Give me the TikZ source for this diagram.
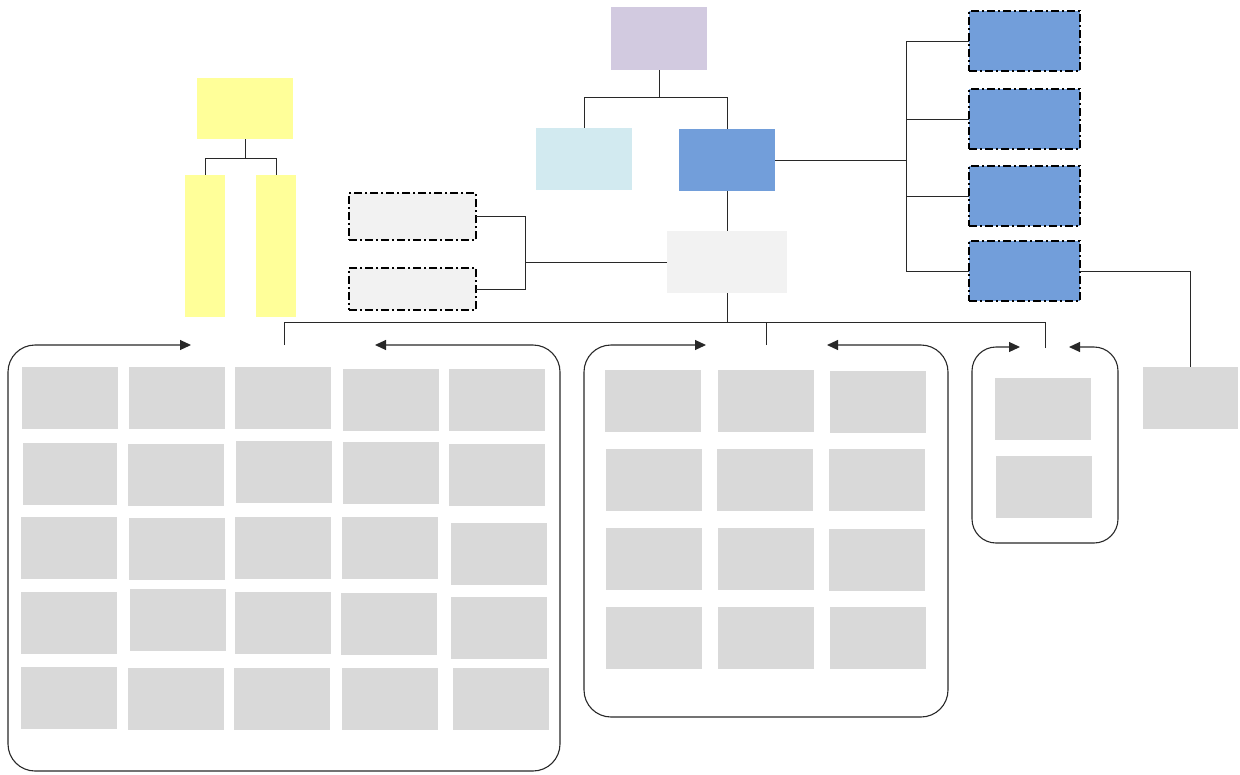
\documentclass[tikz,border=0pt]{standalone}
\usetikzlibrary{arrows.meta}
\definecolor{cpurple}{RGB}{210,202,224}
\definecolor{ccyan}{RGB}{210,234,240}
\definecolor{cblue}{RGB}{114,158,218}
\definecolor{cyellow}{RGB}{255,255,153}
\definecolor{clight}{RGB}{242,242,242}
\definecolor{ccell}{RGB}{217,217,217}
\definecolor{cline}{RGB}{40,40,40}
\begin{document}
\begin{tikzpicture}[x=1pt,y=-1pt,
  box/.style={inner sep=0pt,outer sep=0pt,draw=none},
  cell/.style={box,fill=ccell,minimum width=96pt,minimum height=62pt},
  dashdotbox/.style={box,draw=black,line width=1.3pt,dash pattern=on 8pt off 3pt on 2pt off 3pt},
  conn/.style={draw=cline,line width=1pt},
  region/.style={draw=cline,line width=1.1pt,rounded corners=27pt,{Triangle[length=11pt,width=10pt]}-{Triangle[length=11pt,width=10pt]}}
]
\useasboundingbox (0,0) rectangle (1240,774);
% top tree
\node[box,fill=cpurple,minimum width=96pt,minimum height=63pt] (top) at (659,38.5) {};
\node[box,fill=ccyan,minimum width=96pt,minimum height=62pt] (cy) at (584,159) {};
\node[box,fill=cblue,minimum width=96pt,minimum height=62pt] (bl) at (727,160) {};
\node[box,fill=clight,minimum width=120pt,minimum height=62pt] (lg) at (727,262) {};
\node[dashdotbox,fill=clight,minimum width=127pt,minimum height=47pt] (da) at (412.5,216.5) {};
\node[dashdotbox,fill=clight,minimum width=127pt,minimum height=42pt] (db) at (412.5,289) {};
% yellow
\node[box,fill=cyellow,minimum width=96pt,minimum height=61pt] (yt) at (245,108.5) {};
\node[box,fill=cyellow,minimum width=40pt,minimum height=142pt] (ya) at (205,246) {};
\node[box,fill=cyellow,minimum width=40pt,minimum height=142pt] (yb) at (276,246) {};
% blue dashed column
\node[dashdotbox,fill=cblue,minimum width=111pt,minimum height=60pt] (b1) at (1024.5,41) {};
\node[dashdotbox,fill=cblue,minimum width=111pt,minimum height=60pt] (b2) at (1024.5,119) {};
\node[dashdotbox,fill=cblue,minimum width=111pt,minimum height=60pt] (b3) at (1024.5,196) {};
\node[dashdotbox,fill=cblue,minimum width=111pt,minimum height=60pt] (b4) at (1024.5,271) {};
\node[cell,minimum width=95pt] (gx) at (1190.5,398) {};
% region 1 cells
\node[cell] (a11) at (70,398) {};
\node[cell] (a12) at (177,398) {};
\node[cell] (a13) at (283,398) {};
\node[cell] (a14) at (391,400) {};
\node[cell] (a15) at (497,400) {};
\node[cell,minimum width=94pt] (a21) at (70,474) {};
\node[cell] (a22) at (176,475) {};
\node[cell] (a23) at (284,472) {};
\node[cell] (a24) at (391,473) {};
\node[cell] (a25) at (497,475) {};
\node[cell] (a31) at (69,548) {};
\node[cell] (a32) at (177,549) {};
\node[cell] (a33) at (283,548) {};
\node[cell] (a34) at (390,548) {};
\node[cell] (a35) at (499,554) {};
\node[cell] (a41) at (69,623) {};
\node[cell] (a42) at (178,620) {};
\node[cell] (a43) at (283,623) {};
\node[cell] (a44) at (389,624) {};
\node[cell] (a45) at (499,628) {};
\node[cell] (a51) at (69,698) {};
\node[cell] (a52) at (176,699) {};
\node[cell] (a53) at (282,699) {};
\node[cell] (a54) at (390,699) {};
\node[cell] (a55) at (501,699) {};
% region 2 cells
\node[cell] (c11) at (653,401) {};
\node[cell] (c12) at (766,401) {};
\node[cell] (c13) at (878,402) {};
\node[cell] (c21) at (654,480) {};
\node[cell] (c22) at (765,480) {};
\node[cell] (c23) at (877,480) {};
\node[cell] (c31) at (654,559) {};
\node[cell] (c32) at (766,559) {};
\node[cell] (c33) at (877,560) {};
\node[cell] (c41) at (654,638) {};
\node[cell] (c42) at (766,638) {};
\node[cell] (c43) at (878,638) {};
% region 3 cells
\node[cell] (e1) at (1043,409) {};
\node[cell] (e2) at (1044,487) {};
% connectors
\draw[conn] (top.south) -- ++(0,27) coordinate (tj);
\draw[conn] (tj) -| (cy.north);
\draw[conn] (tj) -| (bl.north);
\draw[conn] (bl.south) -- (lg.north);
\coordinate (lj) at (525,262);
\draw[conn] (lg.west) -- (lj);
\draw[conn] (lj) |- (da.east);
\draw[conn] (lj) |- (db.east);
\draw[conn] (yt.south) -- ++(0,19) coordinate (yj);
\draw[conn] (yj) -| (ya.north);
\draw[conn] (yj) -| (yb.north);
\coordinate (bj) at (906,160);
\draw[conn] (bl.east) -- (bj);
\draw[conn] (bj) |- (b1.west);
\draw[conn] (bj) |- (b2.west);
\draw[conn] (bj) |- (b3.west);
\draw[conn] (bj) |- (b4.west);
\draw[conn] (b4.east) -| (gx.north);
\coordinate (hj) at (727,322);
\coordinate (d1) at (284,345);
\coordinate (d2) at (766,345);
\coordinate (d3) at (1045,348);
\draw[conn] (lg.south) -- (hj);
\draw[conn] (d1) |- (hj);
\draw[conn] (d2) |- (hj);
\draw[conn] (d3) |- (hj);
% rounded regions with arrow gaps
\draw[region] (375,345) -- (560,345) -- (560,771) -- (8,771) -- (8,345) -- (191,345);
\draw[region] (827,345) -- (948,345) -- (948,717) -- (584,717) -- (584,345) -- (706,345);
\draw[region,rounded corners=24pt] (1069,347) -- (1118,347) -- (1118,543) -- (972,543) -- (972,347) -- (1020,347);
\end{tikzpicture}
\end{document}
